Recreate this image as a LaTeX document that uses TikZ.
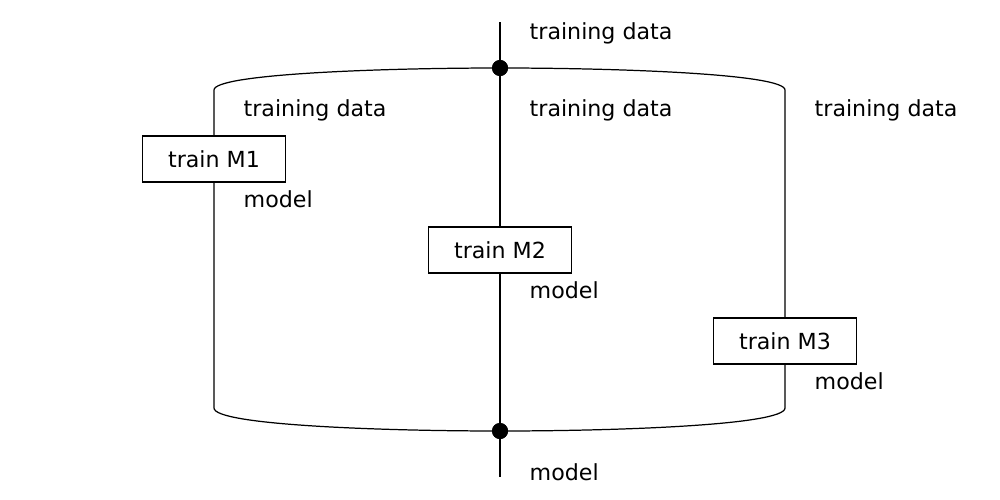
\documentclass[tikz,border=0pt]{standalone}
\usepackage{fontspec}
\setmainfont{DejaVu Sans}
\begin{document}
\begin{tikzpicture}[x=0.01cm,y=-0.01cm,
  wire/.style={line width=0.35pt},
  trainbox/.style={draw,line width=0.35pt,minimum width=1.43cm,minimum height=0.46cm,inner sep=0pt,font=\fontsize{6.3}{7}\selectfont},
  lbl/.style={anchor=base west,inner sep=0pt,font=\fontsize{6.3}{7}\selectfont},
  joint/.style={circle,fill=black,inner sep=0pt,minimum size=0.16cm}]
\useasboundingbox (0,0) rectangle (1000,500);
% nodes
\coordinate (t0) at (500,22);
\coordinate (b0) at (500,477);
\node[joint] (d1) at (500,68) {};
\node[joint] (d2) at (500,431) {};
\node[trainbox] (m1) at (214,159) {train M1};
\node[trainbox] (m2) at (500,250) {train M2};
\node[trainbox] (m3) at (785,341) {train M3};
\coordinate (l1) at (214,90);
\coordinate (l2) at (214,408);
\coordinate (r1) at (785,90);
\coordinate (r2) at (785,408);
% connectors
\draw[wire] (t0) -- (d1.center);
\draw[wire] (d1.center) .. controls (380,68) and (214,74) .. (l1) -- (m1);
\draw[wire] (d1.center) .. controls (620,68) and (785,74) .. (r1) -- (m3);
\draw[wire] (d1.center) -- (m2);
\draw[wire] (m1) -- (l2) .. controls (214,425) and (380,431) .. (d2.center);
\draw[wire] (m3) -- (r2) .. controls (785,425) and (620,431) .. (d2.center);
\draw[wire] (m2) -- (d2.center);
\draw[wire] (d2.center) -- (b0);
\node[joint] at (d1) {};
\node[joint] at (d2) {};
% labels
\node[lbl] (lt) at (529,39) {training data};
\node[lbl] (l1t) at (243,116) {training data};
\node[lbl] (l2t) at (529,116) {training data};
\node[lbl] (l3t) at (814,116) {training data};
\node[lbl] (l1m) at (243,207) {model};
\node[lbl] (l2m) at (529,298) {model};
\node[lbl] (l3m) at (814,389) {model};
\node[lbl] (lbm) at (529,480) {model};
\end{tikzpicture}
\end{document}
